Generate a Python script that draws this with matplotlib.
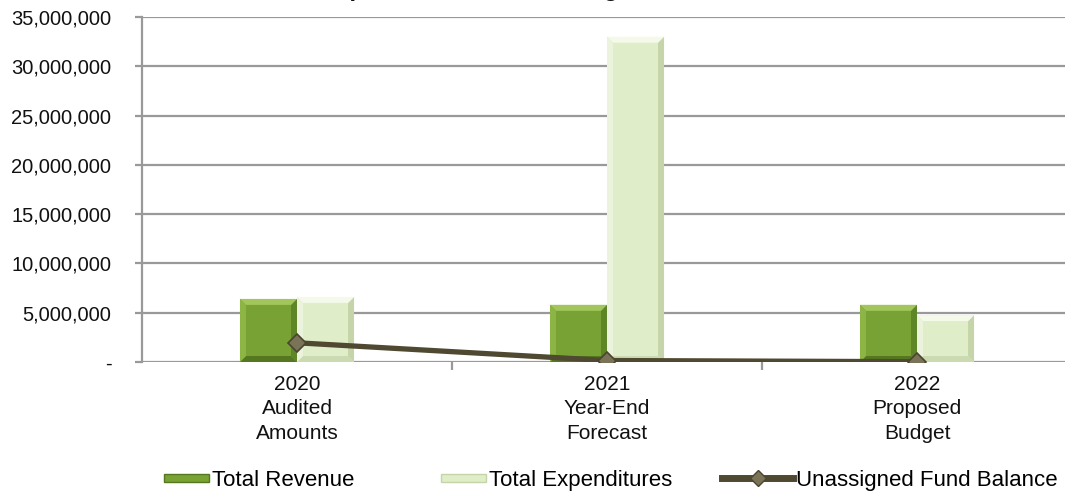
"""Revenue, expenditures and unassigned fund balance by budget year."""

import matplotlib.pyplot as plt
from matplotlib.legend_handler import HandlerPatch
from matplotlib.lines import Line2D
from matplotlib.patches import Polygon, Rectangle
from matplotlib.ticker import FuncFormatter

plt.rcParams["font.family"] = ["Liberation Sans", "DejaVu Sans"]

categories = ["2020\nAudited\nAmounts", "2021\nYear-End\nForecast", "2022\nProposed\nBudget"]
total_revenue = [6_400_000, 5_800_000, 5_800_000]
total_expenditures = [6_600_000, 33_000_000, 4_750_000]
unassigned_balance = [1_950_000, 150_000, 30_000]

REV_COLORS = dict(face="#78a233", top="#a2c65c", left="#8cb545", right="#5f8626", bottom="#55771f")
EXP_COLORS = dict(face="#e0edc9", top="#f4f9ea", left="#ebf3dc", right="#c6d5a9", bottom="#ccdab2")
LINE_COLOR = "#4e4930"

W, H, DPI = 10.65, 4.98, 100


def bevel(ax, rect, c, size=6):
    """Draw a bevelled face over a bar, bevel measured in pixels."""
    x0, y0 = rect.get_xy()
    to_px = ax.transData
    X0, Y0 = to_px.transform((x0, y0))
    X1, Y1 = to_px.transform((x0 + rect.get_width(), y0 + rect.get_height()))
    b = min(size, (Y1 - Y0) / 2, (X1 - X0) / 2)
    inv = to_px.inverted()
    outer = [(X0, Y0), (X1, Y0), (X1, Y1), (X0, Y1)]
    inner = [(X0 + b, Y0 + b), (X1 - b, Y0 + b), (X1 - b, Y1 - b), (X0 + b, Y1 - b)]
    sides = [
        (c["bottom"], [outer[0], outer[1], inner[1], inner[0]]),
        (c["right"], [outer[1], outer[2], inner[2], inner[1]]),
        (c["top"], [outer[2], outer[3], inner[3], inner[2]]),
        (c["left"], [outer[3], outer[0], inner[0], inner[3]]),
        (c["face"], inner),
    ]
    for color, pts in sides:
        ax.add_patch(Polygon(inv.transform(pts), closed=True, facecolor=color,
                             edgecolor="none", zorder=3))


def thin_patch(legend, orig_handle, xdescent, ydescent, width, height, fontsize):
    w, h = 32, 5.5
    return Rectangle((-xdescent + width - w, -ydescent + (height - h) / 2), w, h)


fig = plt.figure(figsize=(W, H), dpi=DPI)
ax = fig.add_axes([142 / 1065, 136 / 498, 930 / 1065, 345 / 498])

x = list(range(len(categories)))
bw = 0.184
ax.set_xlim(-0.5, len(categories) - 0.5)
ax.set_ylim(0, 35_000_000)

rev = ax.bar([i - bw / 2 for i in x], total_revenue, bw, color=REV_COLORS["face"], zorder=2)
exp = ax.bar([i + bw / 2 for i in x], total_expenditures, bw, color=EXP_COLORS["face"], zorder=2)
for r in rev:
    bevel(ax, r, REV_COLORS)
for r in exp:
    bevel(ax, r, EXP_COLORS)

ax.plot(x, unassigned_balance, color=LINE_COLOR, linewidth=3.8, zorder=4,
        solid_capstyle="butt", marker="D", markersize=9,
        markerfacecolor="#7a7358", markeredgecolor="#4a4530", markeredgewidth=1.2)

# axes styling
ax.set_yticks(range(0, 35_000_001, 5_000_000))
ax.yaxis.set_major_formatter(FuncFormatter(lambda v, _: "-" if v == 0 else f"{v:,.0f}"))
ax.grid(axis="y", color="#999999", linewidth=1.6, zorder=1)
ax.set_axisbelow(True)
for side in ("top", "right", "bottom"):
    ax.spines[side].set_visible(False)
ax.spines["left"].set_color("#999999")
ax.spines["left"].set_linewidth(1.6)
ax.tick_params(axis="y", length=5, width=1.6, color="#999999", pad=17,
               labelsize=14.5, labelcolor="#111111")

ax.set_xticks(x)
ax.set_xticklabels(categories, fontsize=15, linespacing=1.38)
ax.set_xticks([0.5, 1.5], minor=True)
ax.tick_params(axis="x", which="major", length=0, pad=9, labelcolor="#111111")
ax.tick_params(axis="x", which="minor", length=6, width=1.6, color="#999999")

# title sits above the canvas edge; only its descenders show
fig.text(196 / 1065, 1 + 3.5 / 498, "Revenues, Expenditures and Unassigned Fund Balance",
         fontsize=17, fontweight="bold", ha="left", va="baseline", color="#111111")

# legend, one entry at a time so each lands where it should
handles = [
    (Rectangle((0, 0), 1, 1, facecolor=REV_COLORS["face"], edgecolor=REV_COLORS["bottom"]),
     "Total Revenue", 160, 2.2),
    (Rectangle((0, 0), 1, 1, facecolor=EXP_COLORS["face"], edgecolor=EXP_COLORS["right"]),
     "Total Expenditures", 437, 2.2),
    (Line2D([], [], color=LINE_COLOR, linewidth=5, marker="D", markersize=8,
            markerfacecolor="#7a7358", markeredgecolor="#4a4530"),
     "Unassigned Fund Balance", 722, 3.2),
]
for h, label, px, hl in handles:
    fig.legend([h], [label], loc="center left", bbox_to_anchor=(px / 1065, 18 / 498),
               frameon=False, fontsize=16, handlelength=hl, handletextpad=0.15,
               borderpad=0, borderaxespad=0,
               handler_map={Rectangle: HandlerPatch(patch_func=thin_patch)})

fig.savefig("out.png", dpi=DPI)
